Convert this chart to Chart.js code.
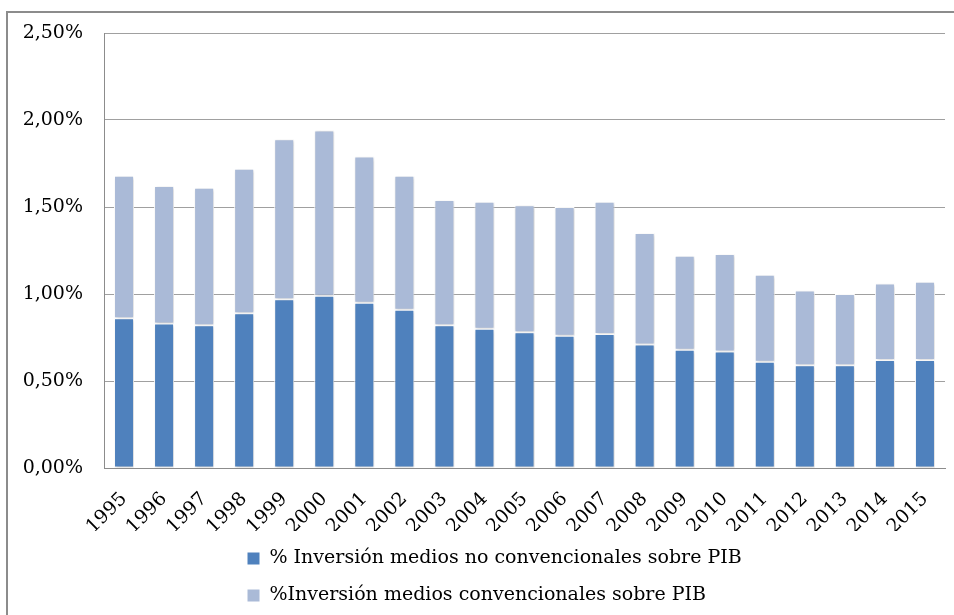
<!DOCTYPE html>
<html>
<head>
<meta charset="utf-8">
<script src="https://cdn.jsdelivr.net/npm/chart.js@4.4.1/dist/chart.umd.min.js"></script>
<style>
  html, body { margin: 0; padding: 0; background: #fff; overflow: hidden; }
  #frame { position: absolute; left: 6px; top: 11px; width: 1000px; height: 700px; border: 2px solid #8c8c8c; }
  #chart { position: absolute; left: 0; top: 0; }
</style>
</head>
<body>
<div id="frame"></div>
<canvas id="chart" width="954" height="615"></canvas>
<script>
const years = ['1995', '1996', '1997', '1998', '1999', '2000', '2001', '2002', '2003', '2004', '2005',
  '2006', '2007', '2008', '2009', '2010', '2011', '2012', '2013', '2014', '2015'];

// % of GDP
const noConvencionales = [0.86, 0.83, 0.82, 0.89, 0.97, 0.99, 0.95, 0.91, 0.82, 0.80, 0.78,
  0.76, 0.77, 0.71, 0.68, 0.67, 0.61, 0.59, 0.59, 0.62, 0.62];
const convencionales = [0.82, 0.79, 0.79, 0.83, 0.92, 0.95, 0.84, 0.77, 0.72, 0.73, 0.73,
  0.74, 0.76, 0.64, 0.54, 0.56, 0.50, 0.43, 0.41, 0.44, 0.45];

const yTicks = [0, 0.5, 1, 1.5, 2, 2.5];

const serif = 'DejaVu Serif, Liberation Serif, serif';

// soft grey halo around the bars, like the original
const barShadow = {
  id: 'barShadow',
  beforeDatasetsDraw(chart) {
    const ctx = chart.ctx;
    ctx.save();
    ctx.shadowColor = 'rgba(0, 0, 0, 0.22)';
    ctx.shadowBlur = 3;
    ctx.shadowOffsetX = 1;
    ctx.shadowOffsetY = 1;
  },
  afterDatasetsDraw(chart) {
    chart.ctx.restore();
  }
};

// both legend rows start at the same x, as in the picture
const legendLeft = {
  id: 'legendLeft',
  afterLayout(chart) {
    chart.legend.left = 229;
  }
};

new Chart(document.getElementById('chart'), {
  type: 'bar',
  data: {
    labels: years,
    datasets: [
      {
        label: '% Inversión medios no convencionales sobre PIB',
        data: noConvencionales,
        backgroundColor: '#4F81BD',
        borderColor: '#ffffff',
        borderWidth: 1,
        borderSkipped: false
      },
      {
        label: '%Inversión medios convencionales sobre PIB',
        data: convencionales,
        backgroundColor: '#AABAD7',
        borderColor: '#ffffff',
        borderWidth: 1,
        borderSkipped: false
      }
    ]
  },
  options: {
    responsive: false,
    animation: false,
    devicePixelRatio: 1,
    layout: { padding: { top: 33, right: 9, left: 0, bottom: 0 } },
    datasets: {
      bar: { categoryPercentage: 1, barPercentage: 0.5 }
    },
    plugins: {
      tooltip: { enabled: false },
      legend: {
        position: 'bottom',
        align: 'start',
        fullSize: false,
        labels: {
          color: '#000',
          boxWidth: 13,
          boxHeight: 13,
          padding: 18,
          font: { family: serif, size: 19 }
        }
      }
    },
    scales: {
      x: {
        stacked: true,
        grid: { display: false },
        border: { display: true, color: '#8c8c8c', width: 1 },
        ticks: {
          color: '#000',
          minRotation: 45,
          maxRotation: 45,
          padding: 12,
          font: { family: serif, size: 19 }
        },
        afterFit(scale) { scale.height = 63; }
      },
      y: {
        stacked: true,
        min: 0,
        max: 2.5,
        afterBuildTicks(scale) { scale.ticks = yTicks.map(v => ({ value: v })); },
        grid: { color: '#a0a0a0', lineWidth: 1, drawTicks: false },
        border: { display: true, color: '#8c8c8c', width: 1 },
        ticks: {
          color: '#000',
          padding: 21,
          font: { family: serif, size: 19 },
          callback: v => v.toFixed(2).replace('.', ',') + '%'
        },
        afterFit(scale) { scale.width = 104; }
      }
    }
  },
  plugins: [barShadow, legendLeft]
});
</script>
</body>
</html>
